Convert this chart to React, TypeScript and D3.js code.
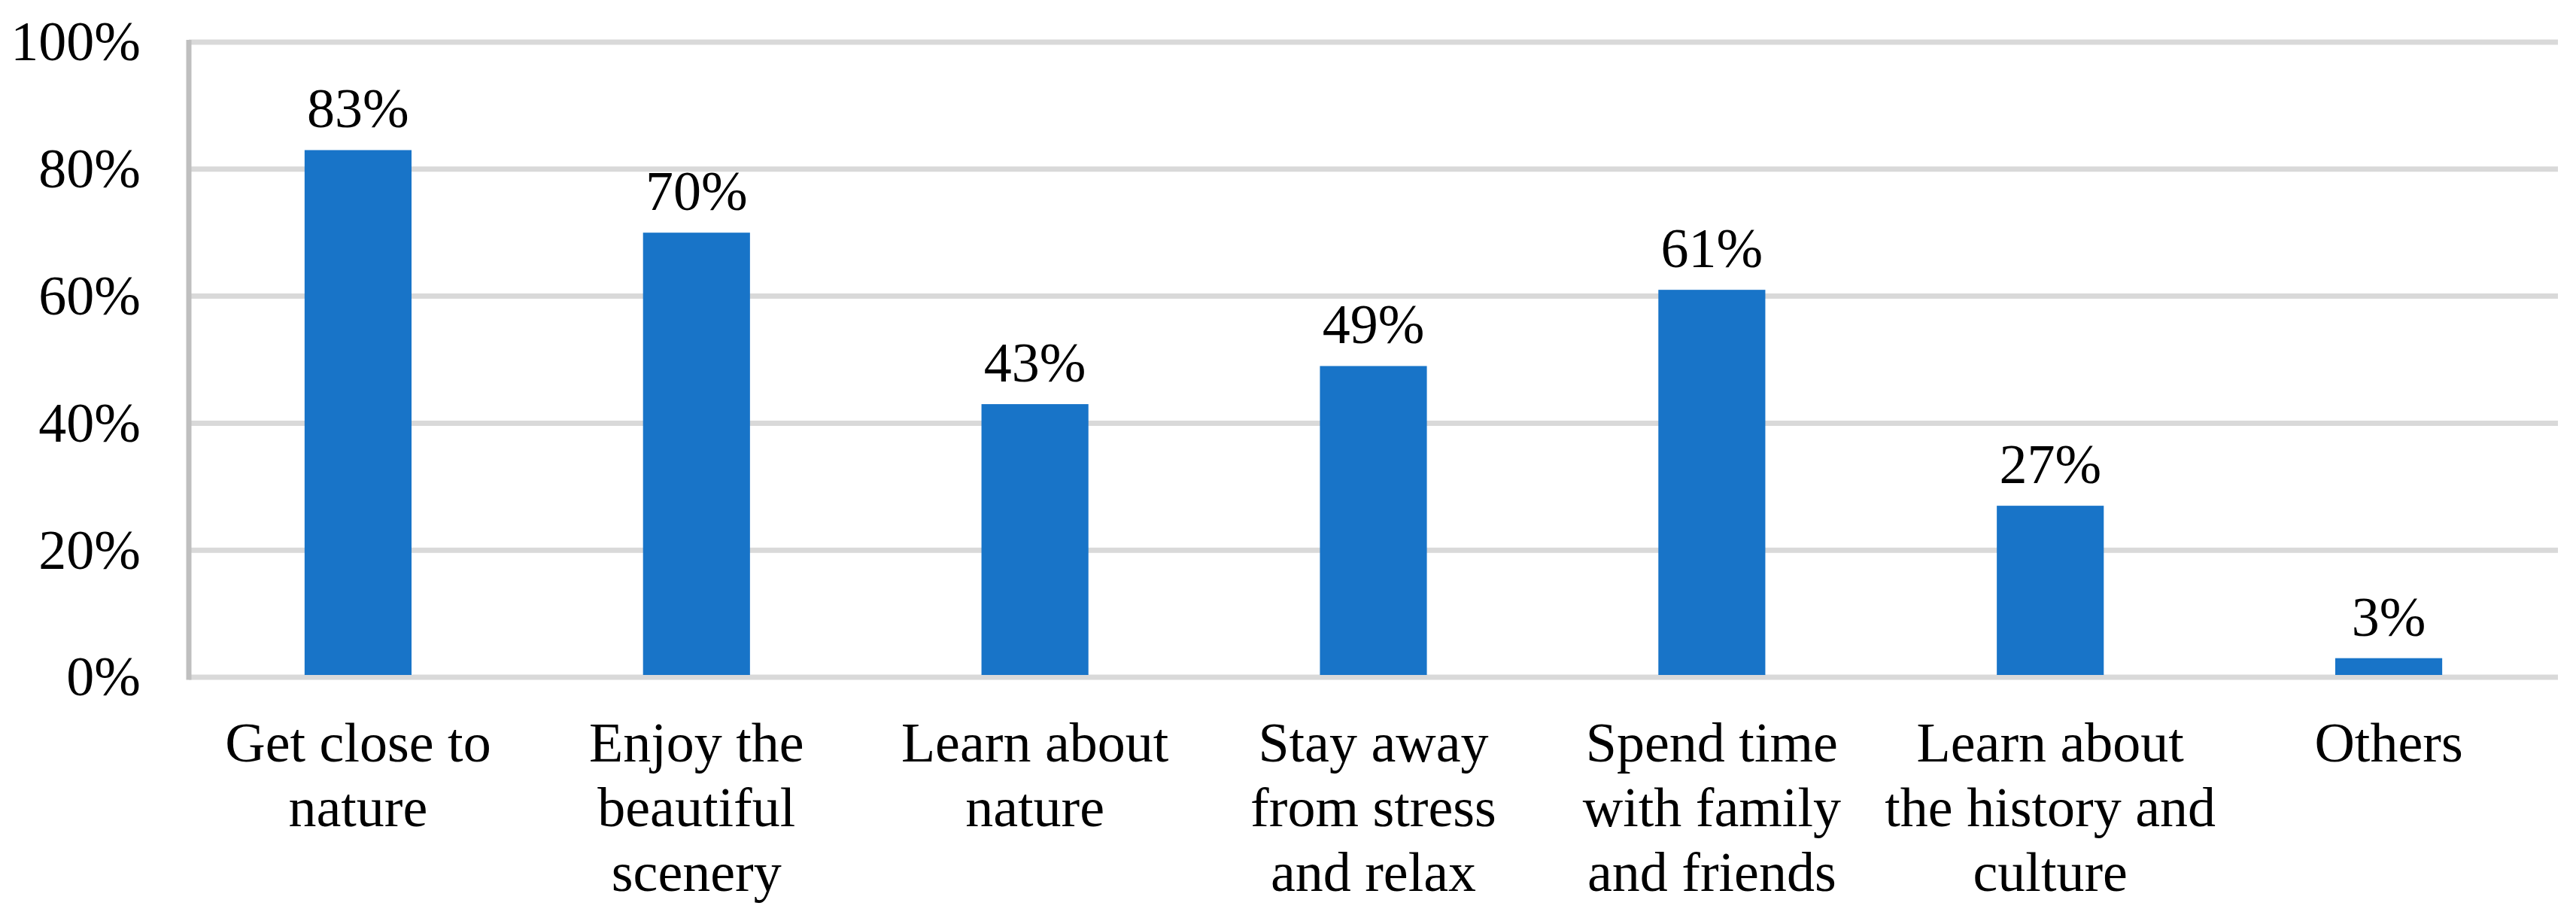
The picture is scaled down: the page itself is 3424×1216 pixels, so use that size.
import React from "react";
import * as d3 from "d3";

const categories: string[][] = [
  ["Get close to", "nature"],
  ["Enjoy the", "beautiful", "scenery"],
  ["Learn about", "nature"],
  ["Stay away", "from stress", "and relax"],
  ["Spend time", "with family", "and friends"],
  ["Learn about", "the history and", "culture"],
  ["Others"],
];
const values: number[] = [0.83, 0.7, 0.43, 0.49, 0.61, 0.27, 0.03];
const yTicks: number[] = [0, 0.2, 0.4, 0.6, 0.8, 1.0];

const W = 3424;
const H = 1216;
const FONT = "'Liberation Serif', 'Times New Roman', serif";
const FS = 74;

export default function App() {
  const keys = categories.map((c) => c.join(" "));
  const x = d3
    .scaleBand<string>()
    .domain(keys)
    .range([251, 3400])
    .paddingInner(0.684)
    .paddingOuter(0.342);
  const y = d3.scaleLinear().domain([0, 1]).range([900, 56]);
  const fmt = d3.format(".0%");

  return (
    <svg
      width={W}
      height={H}
      style={{ position: "absolute", left: 0, top: 0, background: "#fff" }}
      fontFamily={FONT}
    >
      <rect x={0} y={0} width={W} height={H} fill="#ffffff" />
      {yTicks.map((t) => (
        <line
          key={"g" + t}
          x1={251}
          x2={3400}
          y1={y(t)}
          y2={y(t)}
          stroke="#d9d9d9"
          strokeWidth={7}
        />
      ))}
      {yTicks.map((t) => (
        <text
          key={"t" + t}
          x={187}
          y={y(t)}
          dy="0.33em"
          textAnchor="end"
          fontSize={FS}
          fill="#000"
        >
          {fmt(t)}
        </text>
      ))}
      {values.map((v, i) => (
        <rect
          key={"b" + i}
          x={x(keys[i])}
          y={y(v)}
          width={x.bandwidth()}
          height={y(0) - y(v) - 3}
          fill="#1874c8"
        />
      ))}
      <line x1={251} x2={251} y1={y(1) - 3} y2={y(0) + 3.5} stroke="#bfbfbf" strokeWidth={7} />
      {values.map((v, i) => (
        <text
          key={"l" + i}
          x={(x(keys[i]) as number) + x.bandwidth() / 2}
          y={y(v) - 30}
          textAnchor="middle"
          fontSize={FS}
          fill="#000"
        >
          {fmt(v)}
        </text>
      ))}
      {categories.map((lines, i) => (
        <text
          key={"c" + i}
          x={(x(keys[i]) as number) + x.bandwidth() / 2}
          y={1012}
          textAnchor="middle"
          fontSize={FS}
          fill="#000"
        >
          {lines.map((ln, j) => (
            <tspan key={j} x={(x(keys[i]) as number) + x.bandwidth() / 2} y={1012 + j * 86}>
              {ln}
            </tspan>
          ))}
        </text>
      ))}
    </svg>
  );
}
